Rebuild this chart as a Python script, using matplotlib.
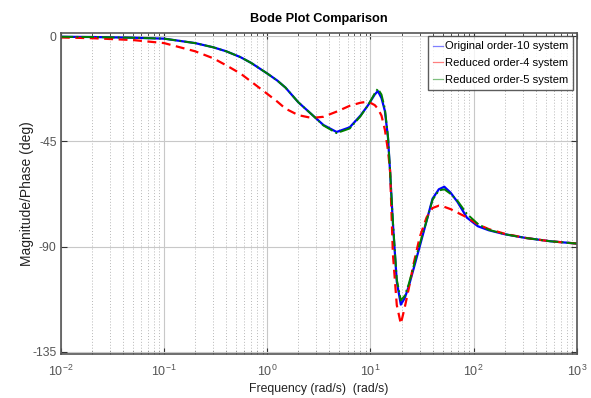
import matplotlib
matplotlib.use("Agg")
import matplotlib.pyplot as plt
from matplotlib.lines import Line2D

plt.rcParams["font.family"] = ["Liberation Sans", "DejaVu Sans"]
plt.rcParams["mathtext.fontset"] = "custom"
plt.rcParams["mathtext.rm"] = "Liberation Sans"
plt.rcParams["mathtext.it"] = "Liberation Sans:italic"
plt.rcParams["mathtext.bf"] = "Liberation Sans:bold"

# frequency grid (rad/s) shared by the three traces
freq = [0.01, 0.02, 0.05, 0.1, 0.2, 0.3, 0.4, 0.55, 0.7, 1.0, 1.25, 1.5, 2.0, 2.7,
        3.5, 4.7, 6.3, 8.0, 9.5, 11.0, 11.8, 12.8, 13.8, 14.8, 15.5, 16.5, 18.0,
        19.7, 21.5, 23.5, 26, 30, 35, 40, 46, 52, 60, 70, 86, 110, 140, 200, 320,
        550, 1000]

# phase in degrees
orig10 = [-0.3, -0.4, -0.7, -1.1, -3.0, -4.8, -6.5, -9.0, -11.5, -16, -19, -22,
          -28.3, -33.5, -38, -41, -39, -34, -29.5, -25, -23.5, -26.5, -32, -43.5,
          -58, -80, -105, -114.8, -112, -107, -100, -90, -79, -69.5, -65.5, -64.4,
          -67, -71, -77.6, -81.3, -83, -84.7, -86.3, -87.7, -88.7]
red4 = [-0.6, -0.9, -1.7, -3.0, -6.5, -9.5, -12.5, -16, -19.5, -24.7, -28, -31,
        -33.8, -35, -34.5, -32.3, -29.8, -28.5, -28, -29.5, -31, -34, -40, -49,
        -57.6, -93, -115, -123, -116, -108, -98, -86, -77.5, -73.5, -72.5, -73,
        -74, -75.5, -77.5, -80.5, -82.5, -84.5, -86.3, -87.7, -88.7]
red5 = [-0.3, -0.4, -0.7, -1.1, -3.0, -4.8, -6.5, -9.0, -11.5, -16, -19, -22,
        -28.3, -33.5, -38.2, -41.5, -39.5, -34.3, -29.5, -24.5, -22.5, -25, -31,
        -43, -57.6, -79, -104, -113, -111, -106, -99, -89, -79, -70, -66, -65.5,
        -67.5, -70.5, -76, -80.3, -82.8, -84.7, -86.3, -87.7, -88.7]

labels = ["Original order-10 system", "Reduced order-4 system", "Reduced order-5 system"]
colors = ["blue", "red", "green"]

fig = plt.figure(figsize=(5.91, 3.98), dpi=100)
ax = fig.add_axes([0.103, 0.11, 0.873, 0.807])

ax.semilogx(freq, orig10, color="blue", lw=1.6, ls="-")
ax.semilogx(freq, red4, color="red", lw=1.6, ls=(0, (4, 2.5)))
ax.semilogx(freq, red5, color="green", lw=1.4, ls="-.")

ax.set_xlim(1e-2, 1e3)
ax.set_ylim(-136, 1.3)
ax.set_yticks([0, -45, -90, -135])
ax.set_yticklabels(["0", "-45", "-90", "-135"])

ax.grid(True, which="major", color="#c8c8c8", lw=0.8, ls="-")
ax.grid(True, which="minor", axis="x", color="#b8b8b8", lw=0.7, ls=(0, (1, 2)))

ax.tick_params(which="both", direction="in", top=True, right=True,
               colors="#333333", labelcolor="#555555")
ax.tick_params(axis="y", labelsize=8.8, pad=3)
ax.tick_params(axis="x", labelsize=9, pad=7)
ax.tick_params(which="major", length=4)
ax.tick_params(which="minor", length=2.5)
for s in ax.spines.values():
    s.set_color("#555555")
    s.set_linewidth(1.2)

ax.set_title("Bode Plot Comparison", fontsize=9.2, fontweight="bold", pad=8)
ax.set_xlabel("Frequency (rad/s)  (rad/s)", fontsize=8.8, color="#222222", labelpad=3)
ax.set_ylabel("Magnitude/Phase (deg)", fontsize=10, color="#222222", labelpad=-1)

handles = [Line2D([], [], color=c, lw=0.9, alpha=0.5) for c in colors]
leg = ax.legend(handles, labels, loc="upper right", fontsize=8.1, frameon=True,
                fancybox=False, borderaxespad=0.3, handlelength=0.9,
                handletextpad=0.15, borderpad=0.45, labelspacing=0.6)
leg.get_frame().set_edgecolor("#333333")
leg.get_frame().set_linewidth(1.0)

fig.savefig("out.png", dpi=100)
